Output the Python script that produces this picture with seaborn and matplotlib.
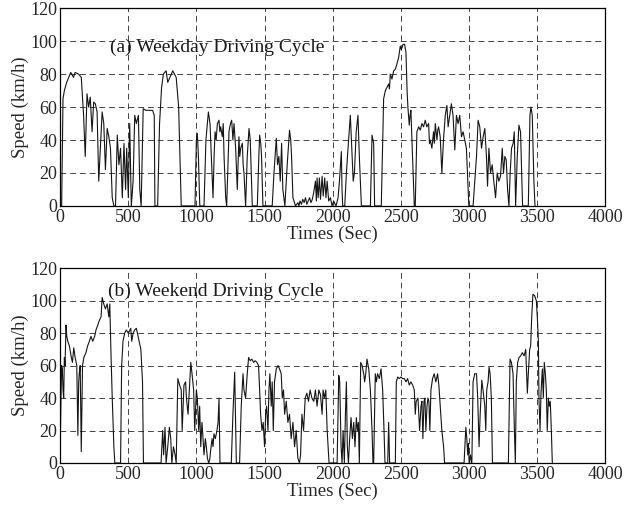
import matplotlib
matplotlib.use("Agg")
import matplotlib.pyplot as plt
import seaborn as sns
import pandas as pd

# Weekday driving cycle: time (s) and speed (km/h)
weekday_time = [0, 12, 22, 32, 49, 74, 79, 99, 111, 136, 156, 173, 185, 198, 210, 222, 235, 247, 259,
                272, 284, 309, 321, 333, 346, 358, 370, 383, 395, 407, 420, 432, 444, 457, 469, 481,
                489, 501, 511, 523, 536, 548, 560, 575, 585, 595, 610, 630, 654, 679, 691, 696, 716,
                730, 745, 758, 778, 790, 827, 852, 870, 889,
                990, 1000, 1007, 1015, 1025, 1056, 1070, 1088, 1100, 1112, 1122, 1130, 1137, 1145,
                1154, 1166, 1172, 1178, 1190, 1197, 1203, 1215, 1222, 1230, 1239, 1250, 1259, 1268,
                1276, 1288, 1300, 1312, 1318, 1325, 1337, 1343, 1349, 1361, 1373, 1386, 1395, 1410,
                1447, 1458, 1464, 1472, 1478, 1488, 1556, 1569, 1586, 1595, 1605, 1615, 1625, 1634,
                1649, 1666, 1683, 1692, 1698, 1708, 1727, 1745, 1752, 1760, 1770, 1780, 1790, 1800,
                1810, 1820, 1830, 1840, 1850, 1860,
                1873, 1880, 1885, 1893, 1902, 1910, 1922, 1930, 1941, 1950, 1959, 1970, 1983, 1995,
                2007, 2024, 2039, 2049, 2063, 2068, 2073, 2088, 2100, 2112, 2129, 2142, 2150, 2159,
                2172, 2185, 2195, 2210, 2276, 2288, 2295, 2300, 2307, 2356, 2373, 2386, 2398, 2410,
                2416, 2422, 2434, 2447, 2459, 2470, 2483, 2495, 2502, 2508, 2515, 2527, 2537, 2545,
                2551, 2561, 2567, 2573, 2581, 2598, 2605, 2617, 2630, 2642, 2654, 2666, 2678, 2690,
                2703, 2709, 2715, 2727, 2739, 2745, 2752, 2764, 2770, 2776, 2788, 2800, 2812, 2825,
                2837, 2846, 2858, 2870, 2882, 2895, 2907, 2919, 2931, 2944, 2956, 2968, 2980, 2988,
                2998, 3029, 3054, 3066, 3078, 3091, 3103, 3115, 3127, 3135, 3145, 3157, 3169, 3181,
                3194, 3206, 3218, 3230, 3243, 3252, 3262, 3272, 3282, 3292, 3301, 3311, 3323, 3331,
                3341, 3353, 3365, 3377, 3385, 3392, 3434, 3446, 3453, 3463, 3475, 3483]
weekday_speed = [0, 0, 65, 70, 75, 80, 81, 78, 81, 80, 78, 55, 30, 68, 60, 66, 45, 63, 62,
                 57, 15, 57, 50, 22, 47, 42, 35, 5, 0, 0, 43, 25, 35, 5, 38, 10,
                 35, 5, 50, 0, 15, 55, 50, 55, 10, 0, 59, 58, 58, 58, 55, 0, 0,
                 50, 72, 80, 82, 75, 82, 78, 60, 0,
                 0, 40, 44, 30, 0, 0, 40, 57, 50, 25, 5, 30, 45, 40,
                 50, 52, 45, 48, 42, 50, 30, 5, 0, 20, 45, 50, 52, 40,
                 50, 35, 10, 42, 30, 35, 38, 25, 20, 0, 30, 47, 40, 0,
                 0, 30, 43, 38, 30, 0, 0, 20, 41, 25, 30, 15, 38, 10,
                 0, 25, 46, 40, 30, 5, 0, 2, 0, 3, 1, 4, 2, 5,
                 1, 3, 5, 2, 4, 8,
                 15, 3, 17, 5, 17, 4, 18, 6, 17, 5, 15, 3, 5, 0,
                 3, 0, 5, 15, 33, 10, 0, 0, 20, 35, 55, 30, 15, 20,
                 45, 55, 30, 0, 0, 43, 40, 38, 0, 0, 65, 70, 72, 74,
                 71, 80, 77, 82, 83, 86, 90, 97, 95, 96, 98, 98, 93, 70,
                 60, 49, 55, 58, 40, 0, 0, 45, 48, 46, 50, 48, 52, 48,
                 50, 38, 40, 35, 45, 38, 50, 40, 46, 48, 42, 20, 40, 55,
                 61, 48, 55, 62, 55, 34, 55, 50, 55, 42, 45, 40, 35, 20,
                 0, 0, 30, 52, 48, 35, 42, 47, 30, 12, 35, 20, 25, 15,
                 5, 20, 15, 18, 35, 20, 30, 28, 10, 0, 20, 35, 38, 45,
                 0, 30, 49, 45, 20, 0, 0, 55, 60, 55, 15, 0]

# Weekend driving cycle: time (s) and speed (km/h)
weekend_time = [0, 7, 12, 17, 22, 27, 32, 37, 44, 50, 57, 69, 81, 91, 101, 111, 123, 131, 137, 141,
                148, 156, 165, 175, 190, 202, 215, 227, 240, 254, 264, 277, 289, 301, 309, 321, 333,
                346, 358, 365, 373, 383, 395, 402, 444, 452, 462, 474, 486, 501, 519, 526, 536, 548,
                560, 573, 593, 605, 612, 741, 753, 760, 770, 778, 790, 802, 812, 820, 832, 844, 852,
                864, 877, 889, 896, 909, 921,
                927, 939, 951, 959, 968, 980, 988, 1000, 1007, 1017, 1024, 1032, 1041, 1049, 1056,
                1066, 1073, 1081, 1090, 1098, 1105, 1115, 1122, 1129, 1139, 1151, 1159, 1166, 1173,
                1256, 1268, 1281, 1293, 1317, 1329, 1342, 1349, 1361, 1373, 1383, 1395, 1407, 1420,
                1432, 1444, 1456, 1464, 1471, 1481, 1490, 1500, 1508, 1515, 1525, 1532, 1539, 1549,
                1556, 1564, 1573, 1586, 1598, 1610, 1622, 1630, 1639, 1647, 1659, 1671, 1683, 1695,
                1708, 1720, 1732, 1744, 1756, 1764, 1774, 1786, 1798, 1810, 1822, 1834, 1847,
                1861, 1873, 1885, 1898, 1910, 1922, 1929, 1939, 1949, 1959, 1966, 1973, 2032, 2044,
                2051, 2061, 2068, 2076, 2085, 2093, 2100, 2107, 2115, 2124, 2134, 2144, 2154, 2163,
                2173, 2181, 2188, 2195, 2198, 2205, 2215, 2227, 2234, 2242, 2251, 2264, 2276, 2288,
                2295, 2300, 2312, 2320, 2329, 2342, 2354, 2366, 2376, 2383, 2403, 2410, 2417, 2459,
                2466, 2476, 2488, 2500, 2512, 2525, 2537, 2549, 2561, 2573, 2586, 2598, 2605, 2612,
                2625, 2637, 2647, 2654, 2661, 2669, 2676, 2683, 2691, 2698, 2705, 2712, 2720, 2732,
                2744, 2756, 2769, 2778, 2788, 2800, 2813, 2820,
                2963, 2976, 2983, 2990, 2995, 3000, 3010, 3017, 3020, 3029, 3041, 3054, 3063, 3073,
                3081, 3093, 3102, 3115, 3122, 3129, 3139, 3146, 3154, 3163, 3171, 3288, 3300, 3310,
                3322, 3332, 3339, 3346, 3356, 3366, 3378, 3390, 3403, 3415, 3427, 3434, 3444, 3451,
                3459, 3468, 3481, 3493, 3500, 3508, 3512, 3520, 3527, 3537, 3544, 3551, 3559, 3566,
                3573, 3581, 3588, 3595, 3603, 3610]
weekend_speed = [0, 40, 60, 58, 45, 40, 65, 60, 85, 78, 75, 72, 66, 62, 71, 65, 60, 17, 50, 55,
                 60, 7, 60, 65, 68, 72, 75, 78, 75, 78, 82, 85, 88, 90, 102, 98, 95,
                 98, 90, 98, 70, 40, 10, 0, 0, 60, 75, 80, 82, 80, 83, 75, 80, 82,
                 83, 78, 70, 50, 0, 0, 20, 5, 22, 0, 10, 22, 15, 0, 10, 5, 0,
                 52, 48, 45, 20, 48, 50,
                 40, 30, 50, 62, 55, 45, 20, 45, 40, 20, 35, 10, 25, 15, 5,
                 15, 10, 3, 0, 2, 8, 15, 10, 18, 15, 20, 25, 40, 0,
                 0, 30, 56, 0, 0, 35, 55, 45, 40, 55, 65, 63, 64, 62,
                 63, 62, 60, 45, 30, 20, 25, 10, 30, 35, 20, 45, 55, 35,
                 50, 20, 50, 58, 60, 58, 55, 40, 45, 30, 38, 25, 30, 15,
                 25, 10, 20, 3, 0, 5, 30, 20, 40, 43, 38, 45, 40,
                 38, 45, 35, 45, 42, 30, 45, 40, 45, 20, 10, 0, 0, 54,
                 50, 10, 0, 20, 0, 30, 50, 10, 0, 15, 28, 15, 25, 10,
                 28, 20, 25, 0, 20, 62, 60, 55, 50, 55, 64, 58, 45, 20,
                 0, 0, 55, 50, 55, 52, 58, 45, 20, 0, 0, 25, 0, 0,
                 50, 53, 52, 53, 52, 52, 50, 52, 48, 50, 48, 45, 30, 38,
                 40, 20, 35, 38, 15, 38, 40, 20, 35, 40, 38, 20, 45, 52,
                 55, 50, 55, 48, 35, 20, 10, 0,
                 0, 22, 15, 5, 12, 0, 5, 0, 0, 50, 55, 55, 40, 10,
                 30, 51, 45, 35, 20, 45, 50, 59, 55, 40, 0, 0, 64, 62,
                 55, 20, 0, 50, 62, 65, 66, 68, 66, 70, 43, 55, 70, 72,
                 90, 104, 103, 100, 90, 75, 40, 20, 43, 58, 40, 62, 55, 45,
                 20, 40, 35, 38, 20, 0]

x_ticks = [0, 500, 1000, 1500, 2000, 2500, 3000, 3500, 4000]
y_ticks = [0, 20, 40, 60, 80, 100, 120]
panel_titles = ["(a) Weekday Driving Cycle", "(b) Weekend Driving Cycle"]
x_label = "Times (Sec)"
y_label = "Speed (km/h)"

sns.set_style("white")
plt.rcParams["font.family"] = ["Liberation Serif", "DejaVu Serif"]

fig = plt.figure(figsize=(6.27, 5.11), dpi=100)
ax_top = fig.add_axes([0.0957, 0.597, 0.870, 0.387])
ax_bot = fig.add_axes([0.0957, 0.094, 0.870, 0.381])

panels = [
    (ax_top, pd.DataFrame({"t": weekday_time, "v": weekday_speed}), panel_titles[0], (370, 96)),
    (ax_bot, pd.DataFrame({"t": weekend_time, "v": weekend_speed}), panel_titles[1], (355, 106)),
]

for ax, df, title, pos in panels:
    sns.lineplot(data=df, x="t", y="v", ax=ax, color="#151515", linewidth=0.8,
                 estimator=None, sort=False)
    ax.set_xlim(0, 4000)
    ax.set_ylim(0, 120)
    ax.set_xticks(x_ticks)
    ax.set_yticks(y_ticks)
    ax.tick_params(axis="both", labelsize=13, direction="in", length=4,
                   color="black", pad=2)
    ax.grid(True, linestyle=(0, (6, 4)), color="#444444", linewidth=0.7)
    for sp in ax.spines.values():
        sp.set_color("black")
        sp.set_linewidth(0.9)
    ax.set_xlabel(x_label, fontsize=13.5, labelpad=0)
    ax.set_ylabel(y_label, fontsize=13.5, labelpad=1)
    ax.text(pos[0], pos[1], title, fontsize=14, ha="left", va="center", color="#1a1a1a")

fig.savefig("out.png", dpi=100)
